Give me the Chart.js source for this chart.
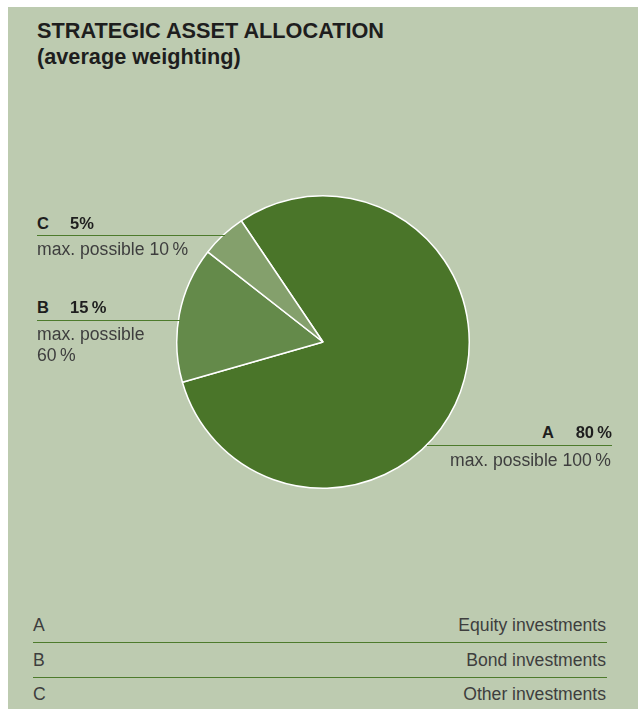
<!DOCTYPE html>
<html>
<head>
<meta charset="utf-8">
<script src="https://cdn.jsdelivr.net/npm/chart.js@4.4.0/dist/chart.umd.min.js"></script>
<style>
  html, body { margin: 0; padding: 0; background: #ffffff; }
  body { width: 638px; height: 709px; position: relative; overflow: hidden; font-family: "Liberation Sans", Arial, Helvetica, sans-serif; }
  #panel { position: absolute; left: 8px; top: 7px; width: 630px; height: 702px; background: #bdcbb0; }
  .t { position: absolute; white-space: nowrap; line-height: 1.15; }
  .bold { font-weight: bold; color: #1e1e1e; }
  .light { color: #3e3e3e; }
  .rule { position: absolute; height: 0; border-top: 1.3px solid #4d7b2c; }
  #pieWrap { position: absolute; left: 173px; top: 192px; width: 300px; height: 300px; }
</style>
</head>
<body>
<div id="panel"></div>
<div id="pieWrap"><canvas id="pie" width="300" height="300"></canvas></div>
<script>
// ---- data ----
const titleLines = ["STRATEGIC ASSET ALLOCATION", "(average weighting)"];
const categories = ["A", "B", "C"];
const categoryNames = ["Equity investments", "Bond investments", "Other investments"];
const values = [80, 15, 5];
const maxValues = [100, 60, 10];
const sliceColors = ["#4a7529", "#648a4a", "#84a06c"];

// ---- helpers ----
function addText(txt, cls, size, x, baseline, align) {
  const d = document.createElement("div");
  d.className = "t " + cls;
  d.textContent = txt;
  d.style.fontSize = size + "px";
  const top = baseline - 0.92 * size;
  d.style.top = top + "px";
  if (align === "right") { d.style.right = (638 - x) + "px"; }
  else { d.style.left = x + "px"; }
  document.body.appendChild(d);
  return d;
}
function addRule(x1, x2, y) {
  const d = document.createElement("div");
  d.className = "rule";
  d.style.left = x1 + "px";
  d.style.width = (x2 - x1) + "px";
  d.style.top = y + "px";
  document.body.appendChild(d);
}
const pct = v => v + "\u2009%";

// ---- title ----
addText(titleLines[0], "bold", 21.7, 37, 39);
addText(titleLines[1], "bold", 21.7, 37, 65);

// ---- slice labels ----
// C
addText(categories[2], "bold", 16.5, 37, 229);
addText(values[2] + "%", "bold", 16.5, 70, 229);
addRule(37, 225, 235);
addText("max. possible " + pct(maxValues[2]), "light", 17.6, 37, 255);
// B
addText(categories[1], "bold", 16.5, 37, 313);
addText(pct(values[1]), "bold", 16.5, 70, 313);
addRule(37, 180, 320);
addText("max. possible", "light", 17.6, 37, 340);
addText(pct(maxValues[1]), "light", 17.6, 37, 361);
// A
addText(categories[0], "bold", 16.5, 554, 438, "right");
addText(pct(values[0]), "bold", 16.5, 612, 438, "right");
addRule(427, 612, 445);
addText("max. possible " + pct(maxValues[0]), "light", 17.6, 611, 466, "right");

// ---- bottom legend table ----
const rowBase = [631, 666, 700];
categories.forEach((c, i) => {
  addText(c, "light", 17.6, 33, rowBase[i]);
  addText(categoryNames[i], "light", 17.6, 606, rowBase[i], "right");
  if (i < categories.length - 1) addRule(33, 607, rowBase[i] + 11);
});

// ---- pie ----
new Chart(document.getElementById("pie"), {
  type: "pie",
  data: {
    labels: categories,
    datasets: [{
      data: values,
      backgroundColor: sliceColors,
      borderColor: "#ffffff",
      borderWidth: 1.5,
      hoverOffset: 0
    }]
  },
  options: {
    responsive: false,
    animation: false,
    rotation: -34,
    layout: { padding: 3 },
    plugins: {
      legend: { display: false },
      tooltip: { enabled: false },
      title: { display: false }
    }
  }
});
</script>
</body>
</html>
